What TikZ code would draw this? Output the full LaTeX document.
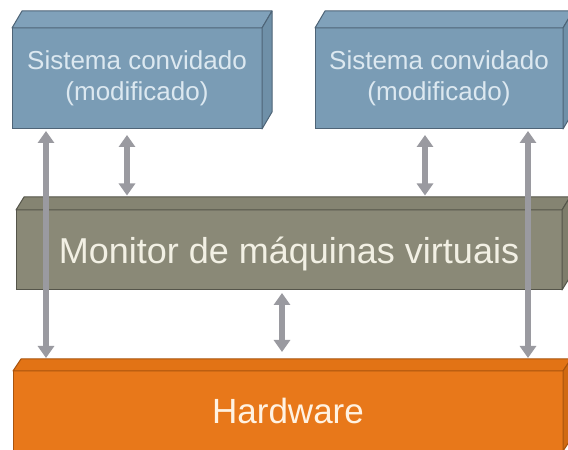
\documentclass[tikz,border=0pt]{standalone}
\usepackage{fontspec}
\setmainfont{Liberation Sans}
\usetikzlibrary{arrows.meta,calc}

\definecolor{guestfront}{HTML}{7A9CB5}
\definecolor{guesttop}{HTML}{80A1BA}
\definecolor{guestside}{HTML}{6F90A8}
\definecolor{guestline}{HTML}{4E6477}
\definecolor{guesttext}{HTML}{DCE8F0}
\definecolor{vmmfront}{HTML}{8A8977}
\definecolor{vmmtop}{HTML}{858472}
\definecolor{vmmside}{HTML}{7E7D6B}
\definecolor{vmmline}{HTML}{55554A}
\definecolor{vmmtext}{HTML}{F2F0E4}
\definecolor{hwfront}{HTML}{E8781A}
\definecolor{hwtop}{HTML}{E27315}
\definecolor{hwside}{HTML}{D06A12}
\definecolor{hwline}{HTML}{A9540E}
\definecolor{hwtext}{HTML}{FFF2E2}
\definecolor{arrowgray}{HTML}{9A9AA0}

% top and right faces of an extruded slab whose front face is node #1
% #2,#3: depth offset, #4 top fill, #5 side fill, #6 edge colour
\newcommand\slabfaces[6]{%
  \filldraw[fill=#4,draw=#6,line width=1pt,line join=round]
    (#1.north west) -- ++(#2,#3) -- ([shift={(#2,#3)}]#1.north east)
    -- (#1.north east) -- cycle;
  \filldraw[fill=#5,draw=#6,line width=1pt,line join=round]
    (#1.north east) -- ++(#2,#3) -- ([shift={(#2,#3)}]#1.south east)
    -- (#1.south east) -- cycle;}

\tikzset{
  slab/.style={draw, line width=1pt, inner sep=0pt, outer sep=0pt, align=center},
  guest/.style={slab, draw=guestline, fill=guestfront, text=guesttext,
    minimum width=250pt, minimum height=101pt,
    font=\fontsize{26}{31}\selectfont},
  vmm/.style={slab, draw=vmmline, fill=vmmfront, text=vmmtext,
    minimum width=546pt, minimum height=80pt, text depth=0pt,
    font=\fontsize{36}{40}\selectfont},
  hw/.style={slab, draw=hwline, fill=hwfront, text=hwtext,
    minimum width=550pt, minimum height=80pt,
    font=\fontsize{35}{40}\selectfont},
  link/.style={draw=arrowgray, line width=6pt,
    {Triangle[width=16pt,length=12pt]}-{Triangle[width=16pt,length=12pt]}}
}

\begin{document}
\begin{tikzpicture}[x=1pt,y=1pt]
  \clip (0,0) rectangle (568,450);
  \fill[white] (0,0) rectangle (568,450);

  % guest systems
  \node[guest] (g1) at (137,371.5) {Sistema convidado\\(modificado)};
  \slabfaces{g1}{10}{17}{guesttop}{guestside}{guestline}
  \node[guest, minimum width=248pt] (g2) at (439,371.5) {Sistema convidado\\(modificado)};
  \slabfaces{g2}{10}{17}{guesttop}{guestside}{guestline}

  % virtual machine monitor
  \node[vmm] (vmm) at (289,200) {Monitor de máquinas virtuais};
  \slabfaces{vmm}{8}{13}{vmmtop}{vmmside}{vmmline}

  % hardware
  \node[hw] (hw) at (288,39) {Hardware};
  \slabfaces{hw}{8}{12}{hwtop}{hwside}{hwline}

  % back edges of the top faces
  \coordinate (vmmback) at ([yshift=13pt]vmm.north);
  \coordinate (hwback) at ([yshift=12pt]hw.north);

  % arrow columns
  \coordinate (xa) at (46,0);
  \coordinate (xb) at (127,0);
  \coordinate (xc) at (282,0);
  \coordinate (xd) at (425,0);
  \coordinate (xe) at (528,0);

  \draw[link, shorten <=6pt, shorten >=1.5pt] (g1.south -| xb) -- (vmmback -| xb);
  \draw[link, shorten <=6pt, shorten >=1.5pt] (g2.south -| xd) -- (vmmback -| xd);
  \draw[link, shorten <=3pt, shorten >=7pt] (vmm.south -| xc) -- (hwback -| xc);
  \draw[link, shorten <=2pt, shorten >=1pt] (g1.south -| xa) -- (hwback -| xa);
  \draw[link, shorten <=2pt, shorten >=1pt] (g2.south -| xe) -- (hwback -| xe);
\end{tikzpicture}
\end{document}
